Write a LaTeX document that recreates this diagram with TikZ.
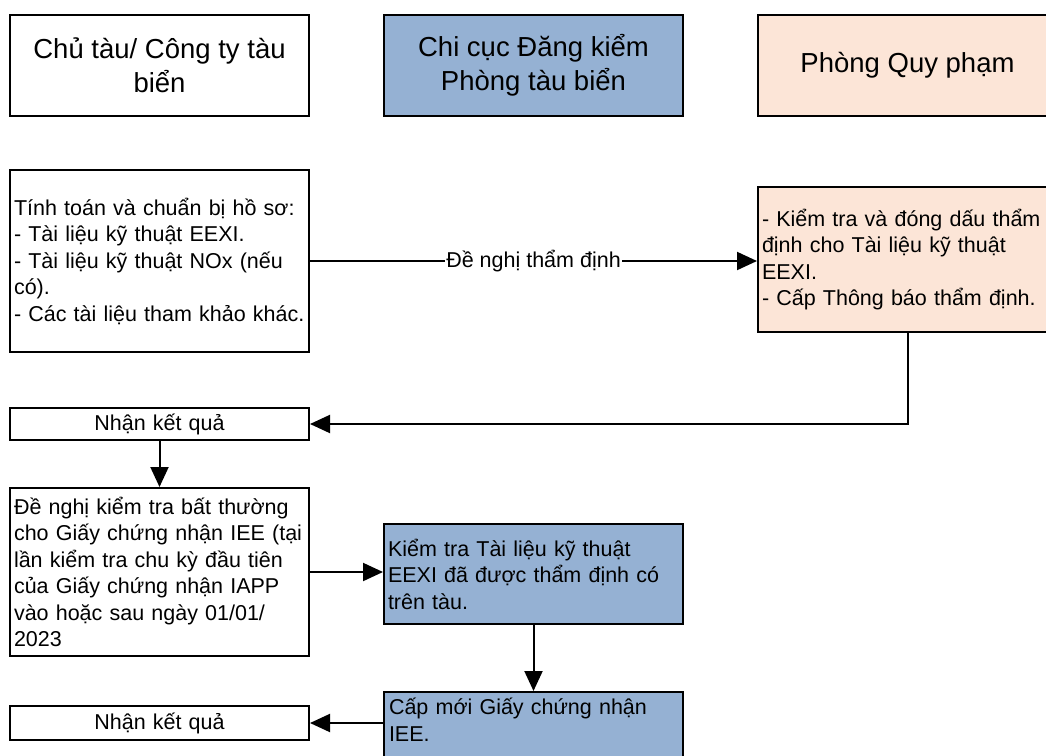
\documentclass[tikz,border=0pt]{standalone}
\usepackage{fontspec}
\setmainfont{Liberation Sans}
\usetikzlibrary{arrows.meta}
\definecolor{blueFill}{HTML}{95B1D3}
\definecolor{peachFill}{HTML}{FCE5D7}
\tikzset{
  hdr/.style={draw=black, line width=2pt, minimum width=299pt, minimum height=101pt, inner sep=0pt, align=center, font=\fontsize{27.5}{34}\selectfont},
  box/.style={draw=black, line width=2pt, inner xsep=4pt, inner ysep=0pt, align=left, font=\fontsize{21.5}{26.5}\selectfont},
  arr/.style={line width=2pt, -{Triangle[length=20pt,width=18pt]}},
}
\begin{document}
\begin{tikzpicture}[x=1pt,y=-1pt]
\useasboundingbox (0,0) rectangle (1046,755);
\clip (0,0) rectangle (1046,755);
% headers
\node[hdr] (A) at (159.5,65.5) {Chủ tàu/ Công ty tàu\\biển};
\node[hdr, fill=blueFill] (B) at (533.5,65.5) {Chi cục Đăng kiểm\\Phòng tàu biển};
\node[hdr, fill=peachFill] (C) at (907.5,65.5) {Phòng Quy phạm};
% flow boxes
\node[box, minimum width=299pt, text width=291pt, minimum height=182pt] (D) at (159.5,261) {Tính toán và chuẩn bị hồ sơ:\\- Tài liệu kỹ thuật EEXI.\\- Tài liệu kỹ thuật NOx (nếu\\có).\\- Các tài liệu tham khảo khác.};
\node[box, fill=peachFill, minimum width=299pt, text width=291pt, minimum height=145pt] (E) at (907.5,259.5) {- Kiểm tra và đóng dấu thẩm\\định cho Tài liệu kỹ thuật\\EEXI.\\- Cấp Thông báo thẩm định.};
\node[box, minimum width=299pt, text width=291pt, minimum height=32pt, align=center] (F) at (159.5,424) {Nhận kết quả};
\node[box, minimum width=299pt, text width=291pt, minimum height=168pt] (G) at (159.5,572) {Đề nghị kiểm tra bất thường\\cho Giấy chứng nhận IEE (tại\\lần kiểm tra chu kỳ đầu tiên\\của Giấy chứng nhận IAPP\\vào hoặc sau ngày 01/01/\\2023};
\node[box, fill=blueFill, minimum width=299pt, text width=291pt, minimum height=100pt] (H) at (533.5,574) {Kiểm tra Tài liệu kỹ thuật\\EEXI đã được thẩm định có\\trên tàu.};
\node[box, fill=blueFill, minimum width=299pt, minimum height=100pt] (I) at (533.5,742) {};
\node[box, draw=none, anchor=north west, text width=291pt] (Itext) at (384,697) {Cấp mới Giấy chứng nhận\\IEE.};
\node[box, minimum width=299pt, text width=291pt, minimum height=34pt, align=center] (J) at (159.5,723) {Nhận kết quả};
% connectors
\draw[arr] (D.east) -- node[fill=white, inner xsep=1pt, inner ysep=0pt, font=\fontsize{21.5}{24}\selectfont] (lbl) {Đề nghị thẩm định} (E.west |- D.east);
\draw[arr] (E.south) -- (E.south |- F.east) -- (F.east);
\draw[arr] (F.south) -- (G.north);
\draw[arr] (G.east) -- (H.west |- G.east);
\draw[arr] (H.south) -- (I.north);
\draw[arr] (I.west |- J.east) -- (J.east);
\end{tikzpicture}
\end{document}
